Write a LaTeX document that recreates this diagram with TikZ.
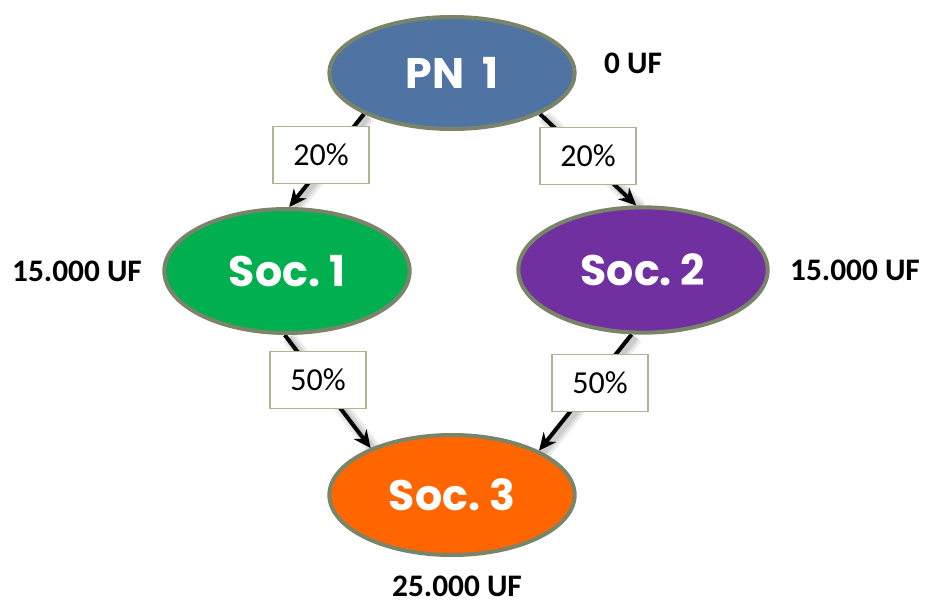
\documentclass[tikz,border=0pt]{standalone}
\usepackage{fontspec}
\setmainfont{Carlito}
\newfontfamily\headfont{Poppins}
\usetikzlibrary{shapes.geometric,arrows.meta,backgrounds}

\definecolor{rimgray}{HTML}{7A8468}
\definecolor{boxrim}{HTML}{A8B890}
\definecolor{pnblue}{HTML}{4F74A3}
\definecolor{socgreen}{HTML}{00B050}
\definecolor{socpurple}{HTML}{7030A0}
\definecolor{socorange}{HTML}{FF6600}

\tikzset{
  entity/.style={ellipse, draw=rimgray, line width=3pt, minimum width=#1,
    minimum height=90pt, inner sep=0pt, text=white,
    font=\headfont\bfseries\fontsize{32}{36}\selectfont},
  share/.style={draw=boxrim, line width=1pt, fill=white, minimum width=72pt,
    minimum height=43pt, inner sep=0pt, font=\fontsize{24}{28}\selectfont},
  amount/.style={font=\bfseries\fontsize{23.5}{27}\selectfont},
  link/.style={line width=3pt, -{Stealth[length=13pt,width=12pt]}},
  softshade/.style={line width=#1, black, opacity=0.07,
    transform canvas={xshift=3pt, yshift=-2pt}},
}

% a soft shadow under a link, built from a few faint strokes
\newcommand\shadedlink[2]{%
  \draw[softshade=11pt] (#1) -- (#2);
  \draw[softshade=7pt] (#1) -- (#2);
  \draw[softshade=4pt] (#1) -- (#2);
  \draw[link] (#1) -- (#2);
}

\begin{document}
\begin{tikzpicture}[x=0.75pt, y=-0.75pt]
  \useasboundingbox (0,0) rectangle (926,603);

  % companies
  \node[entity=184pt, fill=pnblue, minimum height=84pt] (pn) at (452,73) {PN\ \ 1};
  \node[entity=184pt, fill=socgreen, minimum height=93pt] (s1) at (287,271) {Soc.\ 1};
  \node[entity=187pt, fill=socpurple, minimum height=94pt] (s2) at (643,270) {Soc.\ 2};
  \node[entity=184pt, fill=socorange] (s3) at (452,495) {Soc.\ 3};

  % holdings in UF
  \node[amount] (uf0) at (633,63) {0 UF};
  \node[amount] (uf1) at (77,271) {15.000 UF};
  \node[amount] (uf2) at (855,270) {15.000 UF};
  \node[amount] (uf3) at (457,586) {25.000 UF};

  % ownership links, behind the ellipses
  \begin{scope}[on background layer]
    \shadedlink{pn.205}{s1.88}
    \shadedlink{pn.-25}{s2.96}
    \shadedlink{s1.-92}{s3.150}
    \shadedlink{s2.-100}{s3.27}
  \end{scope}

  % percentages
  \node[share] (p1) at (321,155) {20\%};
  \node[share] (p2) at (588,156) {20\%};
  \node[share] (p3) at (318,380) {50\%};
  \node[share] (p4) at (600,383) {50\%};
\end{tikzpicture}
\end{document}
